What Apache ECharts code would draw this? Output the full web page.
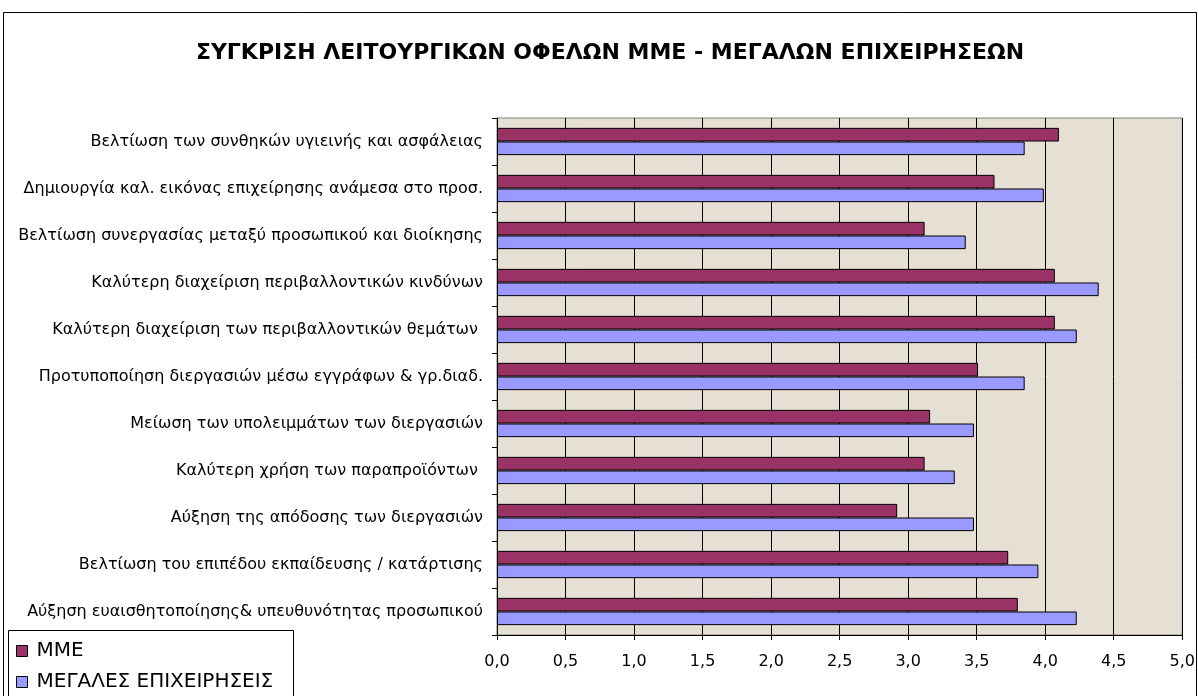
<!DOCTYPE html>
<html>
<head>
<meta charset="utf-8">
<script src="https://cdn.jsdelivr.net/npm/echarts@6/dist/echarts.min.js"></script>
<style>
  html, body { margin: 0; padding: 0; background: #fff; }
  #chart { width: 1198px; height: 696px; }
</style>
</head>
<body>
<div id="chart"></div>
<script>
// categories, top to bottom
var categories = [
  'Βελτίωση των συνθηκών υγιεινής και ασφάλειας',
  'Δημιουργία καλ. εικόνας επιχείρησης ανάμεσα στο προσ.',
  'Βελτίωση συνεργασίας μεταξύ προσωπικού και διοίκησης',
  'Καλύτερη διαχείριση περιβαλλοντικών κινδύνων',
  'Καλύτερη διαχείριση των περιβαλλοντικών θεμάτων ',
  'Προτυποποίηση διεργασιών μέσω εγγράφων & γρ.διαδ.',
  'Μείωση των υπολειμμάτων των διεργασιών',
  'Καλύτερη χρήση των παραπροϊόντων ',
  'Αύξηση της απόδοσης των διεργασιών',
  'Βελτίωση του επιπέδου εκπαίδευσης / κατάρτισης',
  'Αύξηση ευαισθητοποίησης& υπευθυνότητας προσωπικού'
]
var seriesNames = ['ΜΜΕ', 'ΜΕΓΑΛΕΣ ΕΠΙΧΕΙΡΗΣΕΙΣ']
var mmeValues = [4.10, 3.63, 3.12, 4.07, 4.07, 3.51, 3.16, 3.12, 2.92, 3.73, 3.80]
var largeValues = [3.85, 3.99, 3.42, 4.39, 4.23, 3.85, 3.48, 3.34, 3.48, 3.95, 4.23]
var xTicks = [0, 0.5, 1, 1.5, 2, 2.5, 3, 3.5, 4, 4.5, 5]

var font = 'DejaVu Sans, Liberation Sans, sans-serif'
var chart = echarts.init(document.getElementById('chart'))

// one legend per row so the two rows stack like the original box
function legendRow(name, top) {
  return {
    orient: 'vertical',
    left: 16,
    top: top,
    padding: 0,
    itemWidth: 11,
    itemHeight: 11,
    icon: 'rect',
    textStyle: { fontFamily: font, fontSize: 20, color: '#000', padding: [0, 0, 0, 4] },
    itemStyle: { borderColor: '#000', borderWidth: 1 },
    data: [name]
  }
}

var option = {
  backgroundColor: '#fff',
  animation: false,
  title: {
    text: 'ΣΥΓΚΡΙΣΗ ΛΕΙΤΟΥΡΓΙΚΩΝ ΟΦΕΛΩΝ ΜΜΕ - ΜΕΓΑΛΩΝ ΕΠΙΧΕΙΡΗΣΕΩΝ',
    left: 605,
    textAlign: 'center',
    top: 37,
    textStyle: { fontFamily: font, fontSize: 22, fontWeight: 'bold', color: '#000' }
  },
  graphic: [{
    type: 'rect',
    shape: { x: 3.5, y: 12.5, width: 1193, height: 700 },
    style: { fill: 'none', stroke: '#000', lineWidth: 1 },
    z: -1
  }, {
    type: 'rect',
    shape: { x: 8.5, y: 630.5, width: 285, height: 80 },
    style: { fill: '#fff', stroke: '#000', lineWidth: 1 },
    z: 0
  }],
  legend: [legendRow(seriesNames[0], 641), legendRow(seriesNames[1], 672)],
  grid: {
    left: 497,
    right: 13,
    top: 118,
    bottom: 61,
    show: true,
    backgroundColor: '#e6dfd4',
    borderColor: '#808080',
    borderWidth: 1
  },
  xAxis: {
    type: 'value',
    min: xTicks[0],
    max: xTicks[xTicks.length - 1],
    interval: 0.5,
    axisLine: { show: true, lineStyle: { color: '#000' } },
    axisTick: { show: true, length: 5, lineStyle: { color: '#000' } },
    splitLine: { show: true, lineStyle: { color: '#000', width: 1 } },
    axisLabel: {
      margin: 19,
      fontFamily: font,
      fontSize: 16,
      color: '#000',
      formatter: function (v) { return v.toFixed(1).replace('.', ',') }
    }
  },
  yAxis: {
    type: 'category',
    inverse: true,
    data: categories,
    axisLine: { show: true, lineStyle: { color: '#000' } },
    axisTick: { show: true, length: 5, lineStyle: { color: '#000' } },
    axisLabel: { margin: 14, fontFamily: font, fontSize: 16, color: '#000' }
  },
  series: [{
    name: seriesNames[0],
    type: 'bar',
    data: mmeValues,
    barGap: '0%',
    barCategoryGap: '42%',
    itemStyle: { color: '#993366', borderColor: '#000', borderWidth: 1 }
  }, {
    name: seriesNames[1],
    type: 'bar',
    data: largeValues,
    barGap: '0%',
    barCategoryGap: '42%',
    itemStyle: { color: '#9999ff', borderColor: '#000', borderWidth: 1 }
  }]
}
chart.setOption(option)
</script>
</body>
</html>
